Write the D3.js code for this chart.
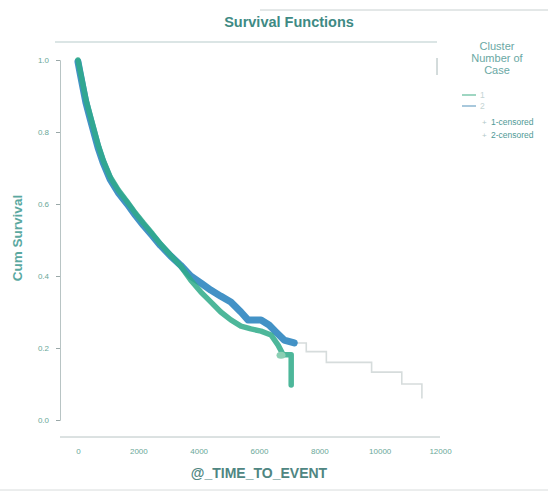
<!DOCTYPE html>
<html>
<head>
<meta charset="utf-8">
<script src="https://cdn.jsdelivr.net/npm/d3@7"></script>
<style>
  body { margin: 0; background: #fff; }
  svg { font-family: "Liberation Sans", Arial, sans-serif; }
</style>
</head>
<body>
<div id="chart"></div>
<script>
// survival data (many small steps, so drawn as a line)
const clusters = ["1", "2"];
const timeGreen = [0, 67, 167, 267, 400, 533, 667, 833, 1067, 1333, 1633, 1900, 2167, 2467, 2733, 3067, 3400,
  3733, 4067, 4400, 4733, 5067, 5400, 5733, 6067, 6400, 6633, 6800, 7067, 7067];
const survGreen = [1.0, 0.972, 0.931, 0.889, 0.847, 0.806, 0.764, 0.722, 0.675, 0.639, 0.606, 0.575, 0.547, 0.517, 0.489, 0.458, 0.428,
  0.389, 0.356, 0.328, 0.30, 0.278, 0.261, 0.253, 0.247, 0.236, 0.208, 0.181, 0.181, 0.097];
const timeBlue = [0, 67, 167, 267, 400, 533, 667, 833, 1067, 1333, 1633, 1900, 2167, 2467, 2733, 3067, 3400,
  3733, 4067, 4400, 4733, 5067, 5400, 5633, 6067, 6333, 6567, 6833, 7167];
const survBlue = [0.995, 0.965, 0.922, 0.88, 0.838, 0.797, 0.756, 0.715, 0.668, 0.632, 0.60, 0.569, 0.541, 0.512, 0.485, 0.456, 0.43,
  0.40, 0.381, 0.361, 0.344, 0.328, 0.30, 0.278, 0.278, 0.264, 0.244, 0.222, 0.214];
const timeTail = [7167, 7567, 8233, 9733, 10567, 10733, 11400];
const survTail = [0.214, 0.19, 0.16, 0.133, 0.133, 0.10, 0.06];
const censorTime = [6730];
const censorSurv = [0.18];
const xTicks = [0, 2000, 4000, 6000, 8000, 10000, 12000];
const yTicks = [0, 0.2, 0.4, 0.6, 0.8, 1.0];

const width = 548, height = 494;
const svg = d3.select("#chart").append("svg")
  .attr("width", width).attr("height", height);

const x = d3.scaleLinear().domain([0, 12000]).range([78, 440]);
const y = d3.scaleLinear().domain([0, 1]).range([420, 60]);

// faint frame lines
svg.append("line").attr("x1", 260).attr("x2", 548).attr("y1", 10).attr("y2", 10)
  .attr("stroke", "#c8d0d0").attr("stroke-width", 1);
svg.append("line").attr("x1", 0).attr("x2", 548).attr("y1", 490).attr("y2", 490)
  .attr("stroke", "#d8dcdc");
svg.append("line").attr("x1", 55).attr("x2", 437).attr("y1", 42).attr("y2", 42)
  .attr("stroke", "#b8cccc").attr("stroke-width", 1.2);
svg.append("line").attr("x1", 437).attr("x2", 437).attr("y1", 58).attr("y2", 75)
  .attr("stroke", "#a8b8b8");

// title
svg.append("text").attr("x", 289).attr("y", 27)
  .attr("text-anchor", "middle").attr("font-size", 14.5).attr("font-weight", "bold")
  .attr("fill", "#3e8a84").text("Survival Functions");

// axes
const yAxis = svg.append("g").attr("transform", "translate(60,0)")
  .call(d3.axisLeft(y).tickValues(yTicks).tickFormat(d3.format(".1f")).tickSize(4).tickPadding(7));
const xAxis = svg.append("g").attr("transform", "translate(0,437)")
  .call(d3.axisBottom(x).tickValues(xTicks).tickFormat(d3.format("d")).tickSize(0).tickPadding(11));
[yAxis, xAxis].forEach(a => {
  a.select(".domain").attr("stroke", "#b8c4c4");
  a.selectAll(".tick line").attr("stroke", "#9aa8a8");
  a.selectAll("text").attr("font-size", 8).attr("fill", "#6aa898");
});
xAxis.select(".domain").attr("d", "M60,0H440");

svg.append("text").attr("transform", "translate(22,238) rotate(-90)")
  .attr("text-anchor", "middle").attr("font-size", 13.5).attr("font-weight", "bold")
  .attr("fill", "#5aa8a0").text("Cum Survival");
svg.append("text").attr("x", 259).attr("y", 478)
  .attr("text-anchor", "middle").attr("font-size", 14).attr("font-weight", "bold")
  .attr("fill", "#4f8682").text("@_TIME_TO_EVENT");

const line = d3.line().x(d => x(d[0])).y(d => y(d[1]));
const step = d3.line().x(d => x(d[0])).y(d => y(d[1])).curve(d3.curveStepAfter);
const zip = (a, b) => a.map((v, i) => [v, b[i]]);

svg.append("path").datum(zip(timeTail, survTail)).attr("d", step)
  .attr("fill", "none").attr("stroke", "#d6dcdc").attr("stroke-width", 1.6);
svg.append("path").datum(zip(timeBlue, survBlue)).attr("d", line)
  .attr("fill", "none").attr("stroke", "#2f86c0").attr("stroke-width", 7)
  .attr("stroke-linejoin", "round").attr("stroke-linecap", "round").attr("opacity", 0.9);
svg.append("path").datum(zip(timeGreen, survGreen)).attr("d", line)
  .attr("fill", "none").attr("stroke", "#2eaa88").attr("stroke-width", 5.5)
  .attr("stroke-linejoin", "round").attr("stroke-linecap", "round").attr("opacity", 0.85);

svg.selectAll(".censor").data(zip(censorTime, censorSurv)).enter()
  .append("ellipse").attr("class", "censor")
  .attr("cx", d => x(d[0])).attr("cy", d => y(d[1]))
  .attr("rx", 4.5).attr("ry", 3.5).attr("fill", "#8ccfb4");

// legend
const legTitle = ["Cluster", "Number of", "Case"];
svg.selectAll(".legtitle").data(legTitle).enter().append("text")
  .attr("x", 497).attr("y", (d, i) => 50 + i * 12)
  .attr("text-anchor", "middle").attr("font-size", 11).attr("fill", "#6aa8a4")
  .text(d => d);

const legColors = ["#9fd6c2", "#a8c8dc"];
const legItems = clusters.concat(clusters.map(c => c + "-censored"));
const leg = svg.selectAll(".leg").data(legItems).enter().append("g")
  .attr("transform", (d, i) => `translate(462,${[95, 106, 122, 135][i]})`);
leg.filter((d, i) => i < 2).append("line")
  .attr("x1", 0).attr("x2", 14).attr("stroke", (d, i) => legColors[i]).attr("stroke-width", 2);
leg.filter((d, i) => i >= 2).append("text")
  .attr("x", 20).attr("y", 3).attr("font-size", 8).attr("fill", "#b0c8c8").text("+");
leg.append("text")
  .attr("x", (d, i) => i < 2 ? 18 : 29).attr("y", 3)
  .attr("font-size", 8.5).attr("fill", (d, i) => i < 2 ? "#c4d4d4" : "#4f9a96")
  .text(d => d);
</script>
</body>
</html>
